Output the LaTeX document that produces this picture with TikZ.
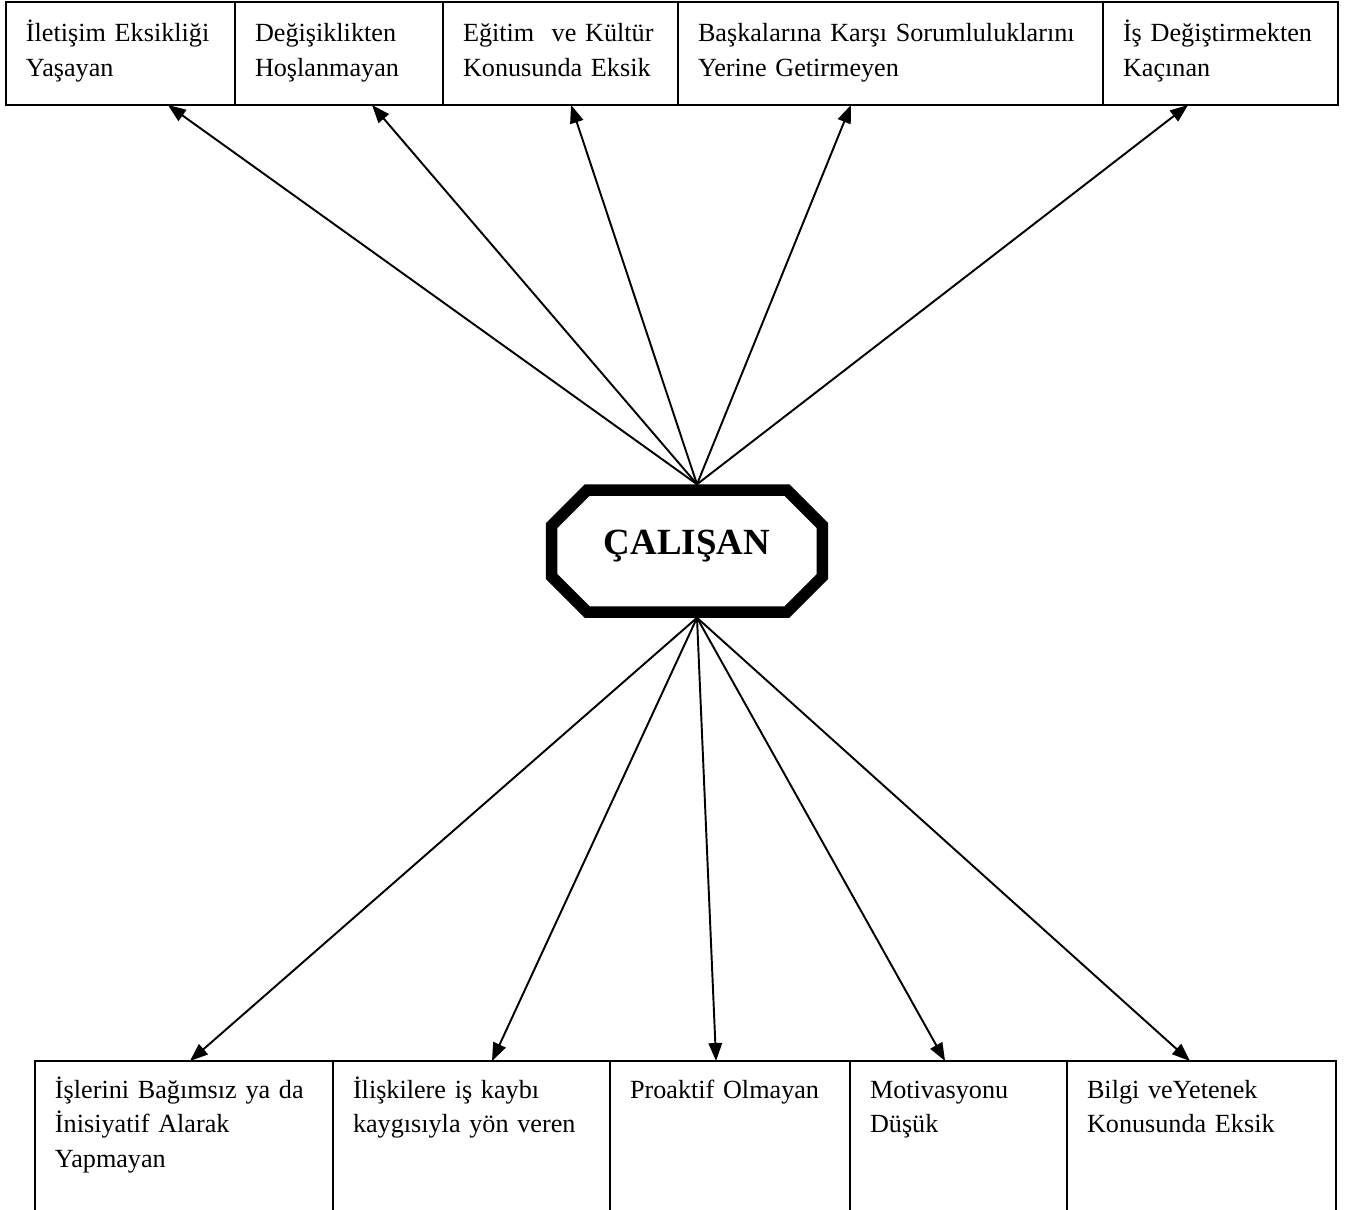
\documentclass[tikz,border=0pt]{standalone}
\usepackage{fontspec}
\setmainfont{Liberation Serif}
\usetikzlibrary{arrows.meta, positioning, calc}

\tikzset{
  kutu/.style={draw, line width=1pt, outer sep=0pt, anchor=north west,
    inner xsep=0.4cm, inner ysep=0pt, align=left,
    font=\fontsize{14.9}{19.9}\selectfont},
  ust/.style={kutu, text height=0.79cm, text depth=1.27cm},
  alt/.style={kutu, text height=0.74cm, text depth=2.34cm},
  ok/.style={line width=1.1pt, -{Triangle[length=0.36cm, width=0.27cm]}},
  pah/.style={line width=0.23cm},
}

\begin{document}
\begin{tikzpicture}
  \useasboundingbox (0,0) rectangle (27.04,-24.18);

  % Center octagon
  \node[minimum width=5.415cm, minimum height=2.44cm, inner sep=0pt, outer sep=0pt,
        text height=0.5cm, text depth=0.36cm,
        font=\fontsize{21}{24}\selectfont\bfseries] (calisan) at (13.74,-11.02) {ÇALIŞAN};
  \draw[pah] ($(calisan.north west)+(0.71,0)$) -- ($(calisan.north east)+(-0.71,0)$)
    -- ($(calisan.north east)+(0,-0.71)$) -- ($(calisan.south east)+(0,0.71)$)
    -- ($(calisan.south east)+(-0.71,0)$) -- ($(calisan.south west)+(0.71,0)$)
    -- ($(calisan.south west)+(0,0.71)$) -- ($(calisan.north west)+(0,-0.71)$) -- cycle;
  \coordinate (tepe) at ($(calisan.north)+(0.2,0.115)$);
  \coordinate (dip) at ($(calisan.south)+(0.2,-0.115)$);

  % Top row
  \node[ust, text width=3.78cm] (t1) at (0.12,-0.04) {İletişim Eksikliği\\Yaşayan};
  \node[ust, text width=3.36cm] (t2) at (4.70,-0.04) {Değişiklikten\\Hoşlanmayan};
  \node[ust, text width=3.90cm] (t3) at (8.86,-0.04) {Eğitim \ ve Kültür\\Konusunda Eksik};
  \node[ust, text width=7.70cm] (t4) at (13.56,-0.04) {Başkalarına Karşı Sorumluluklarını\\Yerine Getirmeyen};
  \node[ust, text width=3.90cm] (t5) at (22.06,-0.04) {İş Değiştirmekten\\Kaçınan};

  % Bottom row
  \node[alt, text width=5.16cm] (b1) at (0.70,-21.22) {İşlerini Bağımsız ya da\\İnisiyatif Alarak\\Yapmayan};
  \node[alt, text width=4.74cm] (b2) at (6.66,-21.22) {İlişkilere iş kaybı\\kaygısıyla yön veren};
  \node[alt, text width=4.00cm] (b3) at (12.20,-21.22) {Proaktif Olmayan};
  \node[alt, text width=3.54cm] (b4) at (17.00,-21.22) {Motivasyonu\\Düşük};
  \node[alt, text width=4.58cm] (b5) at (21.34,-21.22) {Bilgi veYetenek\\Konusunda Eksik};

  % Arrows
  \foreach \n/\f in {t1/0.707, t2/0.659, t3/0.545, t4/0.407, t5/0.362}
    \draw[ok] (tepe) -- ($(\n.south west)!\f!(\n.south east)$);
  \foreach \n/\f in {b1/0.520, b2/0.574, b3/0.442, b4/0.438, b5/0.457}
    \draw[ok] (dip) -- ($(\n.north west)!\f!(\n.north east)$);
\end{tikzpicture}
\end{document}
